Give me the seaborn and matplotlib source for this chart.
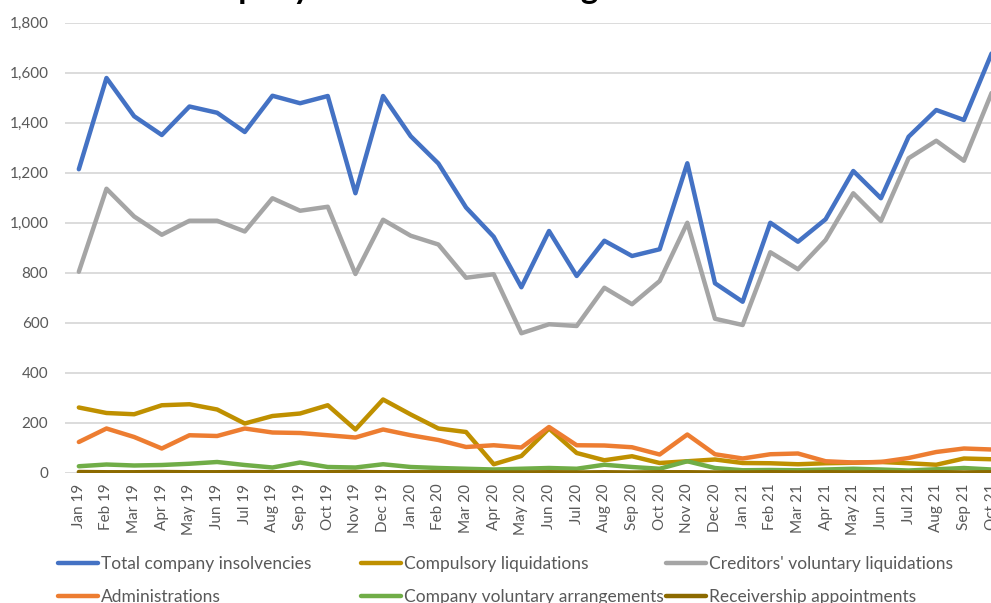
import numpy as np
import pandas as pd
import matplotlib
matplotlib.use("Agg")
import matplotlib.pyplot as plt
from matplotlib.lines import Line2D
from matplotlib.ticker import FuncFormatter
import seaborn as sns

months = ["Jan 19", "Feb 19", "Mar 19", "Apr 19", "May 19", "Jun 19", "Jul 19", "Aug 19",
          "Sep 19", "Oct 19", "Nov 19", "Dec 19", "Jan 20", "Feb 20", "Mar 20", "Apr 20",
          "May 20", "Jun 20", "Jul 20", "Aug 20", "Sep 20", "Oct 20", "Nov 20", "Dec 20",
          "Jan 21", "Feb 21", "Mar 21", "Apr 21", "May 21", "Jun 21", "Jul 21", "Aug 21",
          "Sep 21", "Oct 21"]

total = [1213, 1578, 1425, 1350, 1464, 1439, 1362, 1507, 1477, 1506, 1117, 1506,
         1345, 1236, 1060, 943, 741, 966, 786, 927, 866, 893, 1237, 757,
         683, 999, 923, 1013, 1206, 1097, 1343, 1450, 1410, 1676]
compulsory = [260, 238, 233, 269, 273, 252, 196, 226, 236, 269, 172, 292,
              232, 176, 162, 33, 66, 176, 78, 49, 65, 38, 45, 52,
              38, 37, 33, 37, 39, 42, 37, 31, 56, 53]
creditors = [803, 1135, 1024, 951, 1007, 1007, 964, 1097, 1047, 1063, 794, 1011,
             947, 912, 779, 793, 557, 593, 586, 739, 673, 766, 999, 615,
             590, 881, 813, 930, 1117, 1006, 1257, 1327, 1247, 1518]
administrations = [122, 176, 142, 96, 149, 146, 176, 160, 158, 149, 140, 172,
                   149, 130, 102, 109, 100, 182, 109, 108, 101, 72, 152, 73,
                   56, 73, 76, 45, 40, 42, 58, 82, 96, 92]
cva = [25, 32, 28, 30, 35, 42, 30, 20, 40, 22, 20, 33,
       22, 18, 15, 12, 15, 18, 15, 31, 22, 15, 45, 18,
       9, 10, 9, 12, 15, 12, 8, 13, 18, 12]
receivership = [2, 1, 1, 2, 1, 1, 2, 1, 1, 1, 2, 1,
                1, 1, 1, 0, 0, 1, 0, 1, 0, 1, 1, 0,
                0, 1, 0, 1, 0, 1, 0, 1, 0, 1]

series_names = ["Total company insolvencies", "Compulsory liquidations",
                "Creditors' voluntary liquidations", "Administrations",
                "Company voluntary arrangements", "Receivership appointments"]
series_values = [total, compulsory, creditors, administrations, cva, receivership]
series_colors = ["#4472C4", "#BF9000", "#A5A5A5", "#ED7D31", "#70AD47", "#8C6A00"]

yticks = list(range(0, 1801, 200))

frames = []
for name, vals in zip(series_names, series_values):
    frames.append(pd.DataFrame({"pos": np.arange(len(months)), "month": months,
                                "series": name, "count": vals}))
df = pd.concat(frames, ignore_index=True)

sns.set_style("white")
plt.rcParams["font.family"] = ["Lato", "DejaVu Sans"]
text_grey = "#595959"

W, H = 991, 603
fig = plt.figure(figsize=(W / 100, H / 100), dpi=100)
ax = fig.add_axes([65 / W, (H - 472.5) / H, 940.4 / W, 450 / H])

sns.lineplot(data=df, x="pos", y="count", hue="series", hue_order=series_names,
             palette=dict(zip(series_names, series_colors)), linewidth=3.2,
             legend=False, ax=ax, sort=False)

ax.set_xlim(-0.5, len(months) - 0.5)
ax.set_ylim(0, 1800)
ax.set_yticks(yticks)
ax.yaxis.set_major_formatter(FuncFormatter(lambda v, p: f"{int(v):,}"))
ax.set_xticks(np.arange(len(months)))
ax.set_xticklabels(months, rotation=90)
ax.tick_params(axis="y", length=0, pad=12, labelsize=11, labelcolor=text_grey)
ax.tick_params(axis="x", length=0, pad=8, labelsize=11, labelcolor=text_grey)
ax.grid(axis="y", color="#D9D9D9", linewidth=1.3)
ax.set_axisbelow(True)
for s in ax.spines.values():
    s.set_visible(False)
ax.set_xlabel("")
ax.set_ylabel("")

# chart title sits at the very top edge of the canvas
fig.text(497 / W, 1.0 + 0.5 / H, "Company insolvencies in England and Wales",
         ha="center", va="baseline", fontsize=24, fontweight="bold", color="black")

# legend laid out as three columns of two entries
col_x = [58, 361, 666]
for c in range(3):
    idx = [c, c + 3]
    handles = [Line2D([], [], color=series_colors[i], linewidth=3.2) for i in idx]
    labels = [series_names[i] for i in idx]
    fig.legend(handles, labels, loc="upper left",
               bbox_to_anchor=(col_x[c] / W, 1 - 556 / H), frameon=False,
               fontsize=12.5, labelcolor=text_grey, handlelength=2.3,
               handletextpad=0.2, labelspacing=1.0, borderpad=0, borderaxespad=0)

fig.savefig("out.png", dpi=100)
